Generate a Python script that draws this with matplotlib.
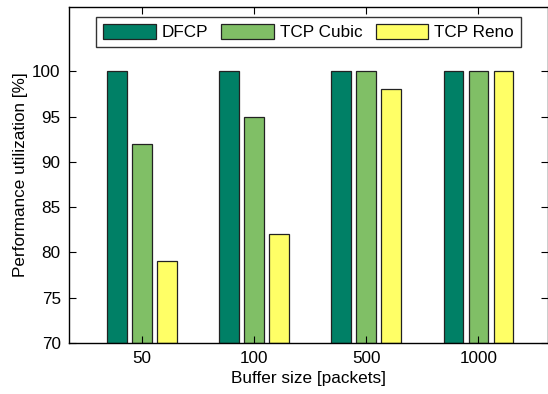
import matplotlib
matplotlib.use("Agg")
import matplotlib.pyplot as plt
import numpy as np

plt.rcParams['font.family'] = ['Liberation Sans', 'DejaVu Sans']

categories = ['50', '100', '500', '1000']
series_names = ['DFCP', 'TCP Cubic', 'TCP Reno']
dfcp = [100, 100, 100, 100]
cubic = [92, 95, 100, 100]
reno = [79, 82, 98, 100]
colors = ['#008066', '#80bf66', '#ffff66']

FS = 12.3

fig = plt.figure(figsize=(5.48, 3.94), dpi=100)
ax = fig.add_axes([69/548, 1 - 343/394, 1 - 69/548, (343 - 7)/394])

x = np.arange(1, len(categories) + 1)
offsets = [-0.223, 0.0, 0.223]
width = 0.175
for vals, off, col, name in zip([dfcp, cubic, reno], offsets, colors, series_names):
    ax.bar(x + off, np.array(vals) - 70, width, bottom=70, color=col,
           edgecolor='#222222', linewidth=0.9, label=name)

ax.set_xlim(0.35, 4.62)
ax.set_ylim(70, 107.1)
ax.set_xticks(x)
ax.set_xticklabels(categories)
ax.set_yticks(np.arange(70, 101, 5))
ax.tick_params(direction='in', top=True, right=True, length=5, width=0.8,
               labelsize=FS, pad=6)
for s in ax.spines.values():
    s.set_linewidth(1.0)

ax.set_xlabel('Buffer size [packets]', fontsize=FS, labelpad=3)
ax.set_ylabel('Performance utilization [%]', fontsize=FS, labelpad=3)

leg = ax.legend(loc='upper center', bbox_to_anchor=(0.5, 0.996), ncol=3,
                fontsize=FS, frameon=True, fancybox=False, edgecolor='black',
                handlelength=3.1, handleheight=0.95, handletextpad=0.35,
                columnspacing=0.75, borderpad=0.42, borderaxespad=0.5)
leg.get_frame().set_linewidth(1.0)

fig.savefig('out.png', dpi=100)
